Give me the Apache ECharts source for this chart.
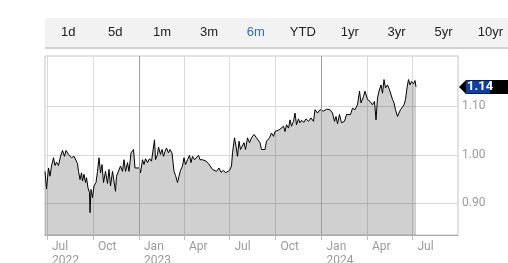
<!DOCTYPE html>
<html><head><meta charset="utf-8">
<script src="https://cdn.jsdelivr.net/npm/echarts@6/dist/echarts.min.js"></script>
<style>html,body{margin:0;padding:0;background:#fff}#c{width:508px;height:263px}</style>
</head><body><div id="c"></div>
<script>
const dates = ['2022-06-27','2022-06-30','2022-07-04','2022-07-07','2022-07-10','2022-07-14','2022-07-17','2022-07-20','2022-07-24','2022-07-28',
'2022-08-01','2022-08-05','2022-08-08','2022-08-13','2022-08-16','2022-08-19','2022-08-24','2022-08-28','2022-08-31','2022-09-02',
'2022-09-05','2022-09-08','2022-09-10','2022-09-13','2022-09-16','2022-09-18','2022-09-21','2022-09-24','2022-09-25','2022-09-27',
'2022-09-30','2022-10-03','2022-10-07','2022-10-10','2022-10-13','2022-10-16','2022-10-19','2022-10-22','2022-10-26','2022-10-30',
'2022-11-02','2022-11-05','2022-11-09','2022-11-13','2022-11-15','2022-11-17','2022-11-21','2022-11-25','2022-11-29','2022-12-02',
'2022-12-05','2022-12-09','2022-12-12','2022-12-16','2022-12-21','2022-12-24','2022-12-27','2023-01-02','2023-01-04','2023-01-08',
'2023-01-11','2023-01-14','2023-01-18','2023-01-22','2023-01-26','2023-01-30','2023-02-01','2023-02-03','2023-02-07','2023-02-09',
'2023-02-13','2023-02-16','2023-02-19','2023-02-22','2023-02-25','2023-03-01','2023-03-04','2023-03-08','2023-03-10','2023-03-12',
'2023-03-15','2023-03-19','2023-03-22','2023-03-25','2023-03-29','2023-04-01','2023-04-04','2023-04-08','2023-04-12','2023-04-15',
'2023-04-18','2023-04-22','2023-04-26','2023-04-30','2023-05-03','2023-05-08','2023-05-11','2023-05-15','2023-05-20','2023-05-24',
'2023-05-28','2023-06-01','2023-06-05','2023-06-10','2023-06-14','2023-06-19','2023-06-23','2023-06-27','2023-07-01','2023-07-05',
'2023-07-07','2023-07-11','2023-07-14','2023-07-17','2023-07-20','2023-07-23','2023-07-27','2023-07-30','2023-08-02','2023-08-06',
'2023-08-10','2023-08-14','2023-08-19','2023-08-24','2023-08-28','2023-08-31','2023-09-03','2023-09-10','2023-09-13','2023-09-19',
'2023-09-23','2023-09-27','2023-09-30','2023-10-03','2023-10-09','2023-10-13','2023-10-17','2023-10-20','2023-10-23','2023-10-27',
'2023-10-30','2023-11-02','2023-11-06','2023-11-09','2023-11-12','2023-11-16','2023-11-19','2023-11-22','2023-11-27','2023-12-01',
'2023-12-06','2023-12-11','2023-12-16','2023-12-19','2023-12-24','2023-12-29','2024-01-05','2024-01-11','2024-01-18','2024-01-23',
'2024-01-27','2024-01-30','2024-02-02','2024-02-06','2024-02-10','2024-02-16','2024-02-20','2024-02-24','2024-02-28','2024-03-03',
'2024-03-08','2024-03-13','2024-03-17','2024-03-20','2024-03-25','2024-03-28','2024-04-02','2024-04-07','2024-04-12','2024-04-16',
'2024-04-19','2024-04-22','2024-04-25','2024-04-29','2024-05-02','2024-05-05','2024-05-08','2024-05-12','2024-05-16','2024-05-19',
'2024-05-22','2024-05-25','2024-05-28','2024-06-01','2024-06-04','2024-06-07','2024-06-11','2024-06-14','2024-06-17','2024-06-20',
'2024-06-23','2024-06-26','2024-06-29','2024-07-03','2024-07-06','2024-07-08'];
const values = [0.966,0.930,0.973,0.956,0.977,0.994,0.978,0.985,0.978,0.997,
1.009,0.997,1.009,1.001,1.004,0.994,0.997,1.000,0.982,0.966,
0.949,0.963,0.946,0.960,0.943,0.953,0.932,0.922,0.881,0.929,
0.912,0.936,0.943,0.966,0.994,0.963,0.980,0.943,0.966,0.941,
0.970,0.936,0.966,0.963,0.925,0.956,0.960,0.977,0.966,0.990,
0.966,0.984,0.966,1.004,1.011,0.973,0.977,0.973,0.963,0.990,
0.980,0.992,0.984,0.992,0.987,0.990,1.031,0.990,1.001,1.016,
1.001,1.011,0.997,1.007,1.014,1.004,1.011,1.004,1.001,0.966,
0.958,0.943,0.956,0.968,0.977,0.994,0.980,0.990,0.999,0.984,
0.997,0.990,0.994,0.999,0.990,0.990,0.994,0.987,0.982,0.982,
0.970,0.973,0.966,0.973,0.964,0.968,0.963,0.960,0.968,0.977,
1.004,1.035,1.018,0.997,1.028,1.011,1.007,1.025,1.011,1.035,
1.025,1.035,1.042,1.035,1.038,1.025,1.011,1.011,1.028,1.035,
1.045,1.038,1.048,1.044,1.052,1.048,1.059,1.048,1.062,1.055,
1.072,1.059,1.069,1.086,1.062,1.074,1.066,1.071,1.067,1.074,
1.069,1.076,1.069,1.093,1.086,1.093,1.090,1.094,1.093,1.086,
1.069,1.079,1.064,1.083,1.066,1.069,1.083,1.086,1.083,1.096,
1.093,1.103,1.131,1.107,1.120,1.131,1.114,1.110,1.103,1.110,
1.072,1.117,1.131,1.144,1.127,1.155,1.138,1.144,1.134,1.131,
1.114,1.107,1.093,1.079,1.086,1.093,1.096,1.103,1.114,1.138,
1.155,1.144,1.151,1.146,1.153,1.140];
const xTickDates = ['2022-07-01','2022-10-01','2023-01-01','2023-04-01','2023-07-01','2023-10-01','2024-01-01','2024-04-01','2024-07-01'];
const yearLineDates = ['2023-01-01','2024-01-01'];
const yTicks = [0.90, 1.00, 1.10];
const monthNames = ['Jan','Feb','Mar','Apr','May','Jun','Jul','Aug','Sep','Oct','Nov','Dec'];
const buttons = ['1d','5d','1m','3m','6m','YTD','1yr','3yr','5yr','10yr'];
const activeButton = '6m';
const xMin = '2022-06-27', xMax = '2024-09-30';
const yMin = 0.835, yMax = 1.2035;

const P = s => +echarts.time.parse(s);
const chart = echarts.init(document.getElementById('c'), null, {renderer:'canvas'});
const tickTs = xTickDates.map(P);
const option = {
  animation:false,
  grid:{left:45,right:50,top:56,bottom:28,show:true,borderColor:'#c4c4c4',borderWidth:1,backgroundColor:'transparent',outerBoundsMode:'none',containLabel:false},
  xAxis:{type:'value',min:P(xMin),max:P(xMax),scale:true,
    axisLine:{show:true,onZero:false,lineStyle:{color:'#aaaaaa',width:1}},
    axisTick:{show:true,length:5,lineStyle:{color:'#bbbbbb'},customValues:tickTs},
    splitLine:{show:true,lineStyle:{color:'#d9d9d9',width:1}},
    axisLabel:{customValues:tickTs,align:'left',padding:[0,0,0,5],margin:5,color:'#9a9a9a',fontFamily:'Roboto',fontSize:12,lineHeight:14,
      formatter:function(v){const d=new Date(v);const m=d.getMonth();let s=monthNames[m];if(m===0||v===tickTs[0])s+='\n'+d.getFullYear();return s;}}
  },
  yAxis:{type:'value',position:'right',min:yMin,max:yMax,scale:true,
    axisLine:{show:false},
    axisTick:{show:false,customValues:yTicks},
    splitLine:{show:true,lineStyle:{color:'#d9d9d9',width:1}},
    axisLabel:{customValues:yTicks,margin:4,color:'#9a9a9a',fontFamily:'Roboto',fontSize:12,formatter:v=>v.toFixed(2)}
  },
  series:[{type:'line',data:dates.map((d,i)=>[P(d),values[i]]),showSymbol:false,symbol:'none',
    lineStyle:{color:'#000',width:1},areaStyle:{color:'rgba(0,0,0,0.185)',opacity:1,origin:'start'},
    markLine:{silent:true,symbol:'none',label:{show:false},lineStyle:{color:'#9c9c9c',width:1,type:'solid'},
      data:yearLineDates.map(d=>({xAxis:P(d)}))}
  }]
};
chart.setOption(option);

const lastV = values[values.length-1];
const ly = Math.round(chart.convertToPixel({yAxisIndex:0}, lastV));
const g = [
  {type:'rect',shape:{x:45,y:18,width:463,height:29},style:{fill:'#f2f2f2'}},
  {type:'rect',shape:{x:45,y:47,width:463,height:2},style:{fill:'#d2d2d2'}},
  {type:'polygon',shape:{points:[[459,ly],[466,ly-7],[508,ly-7],[508,ly+7],[466,ly+7]]},style:{fill:'#000'}},
  {type:'rect',shape:{x:466,y:ly-6.5,width:24,height:13},style:{fill:'#0d3fa6'}},
  {type:'text',x:467,y:ly,style:{text:lastV.toFixed(2),fill:'#fff',font:'bold 13px Roboto',textVerticalAlign:'middle',textAlign:'left'}}
];
buttons.forEach((b,i)=>{
  g.push({type:'text',x:68.3+46.9*i,y:32.5,style:{text:b,fill:b===activeButton?'#2f6fb6':'#222',font:'13px "Liberation Sans"',textAlign:'center',textVerticalAlign:'middle'}});
});
chart.setOption({graphic:g});
</script></body></html>
